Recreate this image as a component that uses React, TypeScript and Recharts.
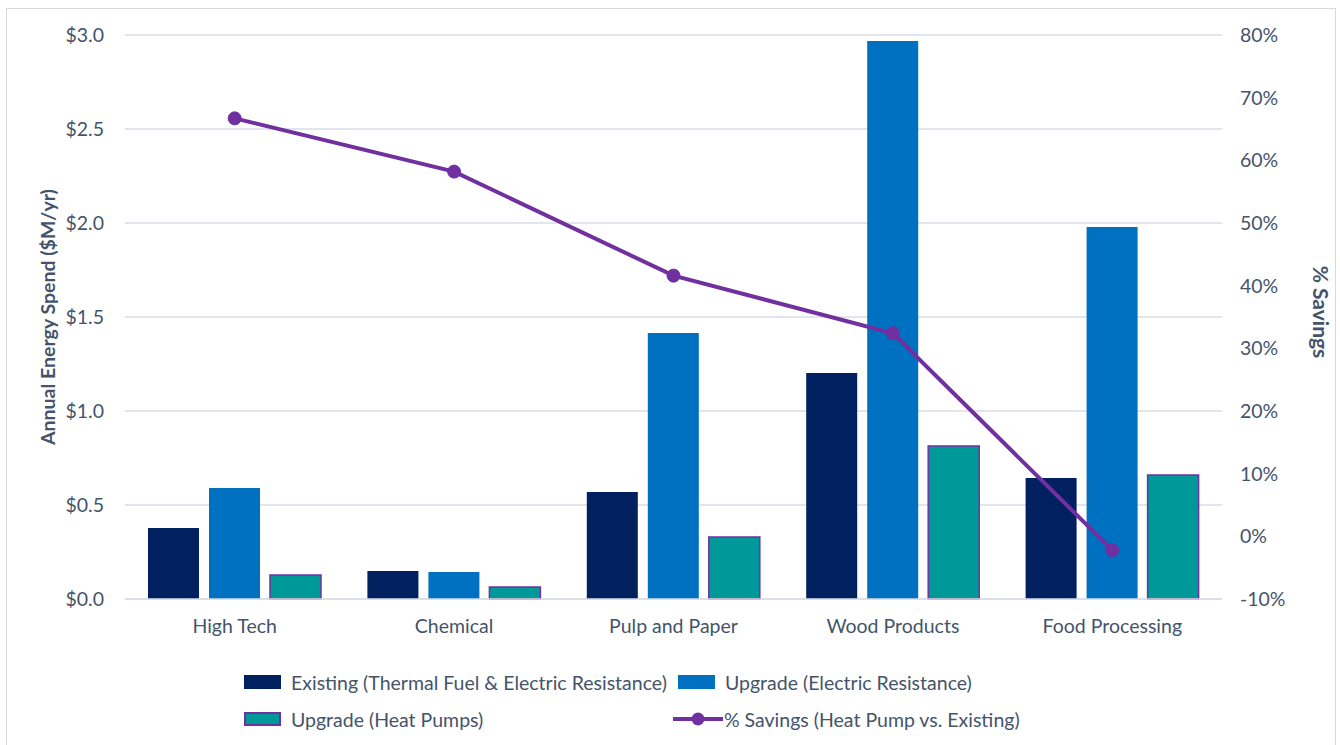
import { Bar, CartesianGrid, ComposedChart, Line, XAxis, YAxis } from 'recharts'

const categories = ['High Tech', 'Chemical', 'Pulp and Paper', 'Wood Products', 'Food Processing']
const existingSpend = [0.378, 0.149, 0.569, 1.202, 0.644]
const electricSpend = [0.59, 0.144, 1.415, 2.968, 1.979]
const heatPumpSpend = [0.128, 0.064, 0.33, 0.814, 0.66]
const savingsPct = [0.667, 0.582, 0.416, 0.324, -0.022]

const spendTicks = [0, 0.5, 1, 1.5, 2, 2.5, 3]
const pctTicks = [-0.1, 0, 0.1, 0.2, 0.3, 0.4, 0.5, 0.6, 0.7, 0.8]

const seriesNames = {
  existing: 'Existing (Thermal Fuel & Electric Resistance)',
  electric: 'Upgrade (Electric Resistance)',
  heatPump: 'Upgrade (Heat Pumps)',
  savings: '% Savings (Heat Pump vs. Existing)',
}

const data = categories.map((name, i) => ({
  name,
  existing: existingSpend[i],
  electric: electricSpend[i],
  heatPump: heatPumpSpend[i],
  savings: savingsPct[i],
}))

const FONT = 'Lato, "Open Sans", sans-serif'
const FS = 19.5
const TEXT = '#44546A'
const NAVY = '#002060'
const BLUE = '#0070C0'
const TEAL = '#009999'
const PURPLE = '#7030A0'

function LeftLabel({ viewBox }: any) {
  const x = 47
  const y = viewBox.y + viewBox.height / 2
  return (
    <text x={x} y={y} transform={`rotate(-90, ${x}, ${y})`} textAnchor="middle" dominantBaseline="central"
      fill={TEXT} fontSize={FS} fontWeight={700} fontFamily={FONT}>
      Annual Energy Spend ($M/yr)
    </text>
  )
}

function RightLabel({ viewBox }: any) {
  const x = 1321
  const y = viewBox.y + viewBox.height / 2 - 5
  return (
    <text x={x} y={y} transform={`rotate(90, ${x}, ${y})`} textAnchor="middle" dominantBaseline="central"
      fill={TEXT} fontSize={21} fontWeight={700} fontFamily={FONT}>
      % Savings
    </text>
  )
}

function Swatch({ fill, stroke }: { fill: string; stroke?: string }) {
  return (
    <span style={{ display: 'inline-block', width: 37, height: 14, background: fill, boxSizing: 'border-box',
      border: stroke ? `2px solid ${stroke}` : 'none', marginRight: 10 }} />
  )
}

function LegendItem({ left, top, children, label }: any) {
  return (
    <div style={{ position: 'absolute', left, top, display: 'flex', alignItems: 'center', height: 24,
      fontFamily: FONT, fontSize: FS, color: TEXT, whiteSpace: 'nowrap' }}>
      {children}
      <span>{label}</span>
    </div>
  )
}

export default function App() {
  return (
    <div style={{ position: 'absolute', left: 0, top: 0, width: 1340, height: 745, background: '#fff' }}>
      <div style={{ position: 'absolute', left: 6, top: 8, width: 1330, height: 745, border: '1px solid #D9D9D9',
        boxSizing: 'border-box' }} />
      <ComposedChart width={1340} height={745} data={data} barSize={51} barGap={10}
        margin={{ top: 35, right: 0, bottom: 116, left: 0 }} style={{ position: 'absolute', left: 0, top: 0 }}>
        <CartesianGrid vertical={false} stroke="#D9DEE6" strokeWidth={1.5} yAxisId="left" />
        <XAxis dataKey="name" tickLine={false} tickSize={0} tickMargin={20} height={30}
          axisLine={{ stroke: '#D9DEE6', strokeWidth: 1.5 }}
          tick={{ fill: TEXT, fontSize: FS, fontFamily: FONT }} />
        <YAxis yAxisId="left" orientation="left" width={125} domain={[0, 3]} ticks={spendTicks}
          tickFormatter={(v: number) => `$${v.toFixed(1)}`} axisLine={false} tickLine={false} tickSize={0}
          tickMargin={21} tick={{ fill: TEXT, fontSize: FS, fontFamily: FONT }} label={{ content: LeftLabel }} />
        <YAxis yAxisId="right" orientation="right" width={118} domain={[-0.1, 0.8]} ticks={pctTicks}
          tickFormatter={(v: number) => `${Math.round(v * 100)}%`} axisLine={false} tickLine={false} tickSize={0}
          tickMargin={18} tick={{ fill: TEXT, fontSize: FS, fontFamily: FONT, textAnchor: 'start' }}
          label={{ content: RightLabel }} />
        <Bar yAxisId="left" dataKey="existing" name={seriesNames.existing} fill={NAVY} isAnimationActive={false} />
        <Bar yAxisId="left" dataKey="electric" name={seriesNames.electric} fill={BLUE} isAnimationActive={false} />
        <Bar yAxisId="left" dataKey="heatPump" name={seriesNames.heatPump} fill={TEAL} stroke={PURPLE}
          strokeWidth={1.5} isAnimationActive={false} />
        <Line yAxisId="right" dataKey="savings" name={seriesNames.savings} stroke={PURPLE} strokeWidth={4}
          dot={{ r: 6.5, fill: PURPLE, stroke: PURPLE, strokeWidth: 1 }} activeDot={false} isAnimationActive={false} />
      </ComposedChart>
      <LegendItem left={244} top={670} label={seriesNames.existing}><Swatch fill={NAVY} /></LegendItem>
      <LegendItem left={678} top={670} label={seriesNames.electric}><Swatch fill={BLUE} /></LegendItem>
      <LegendItem left={244} top={707} label={seriesNames.heatPump}><Swatch fill={TEAL} stroke={PURPLE} /></LegendItem>
      <LegendItem left={673} top={707} label={seriesNames.savings}>
        <svg width={50} height={16} style={{ marginRight: 1 }}>
          <line x1={0} y1={8} x2={50} y2={8} stroke={PURPLE} strokeWidth={4} />
          <circle cx={25} cy={8} r={6.5} fill={PURPLE} />
        </svg>
      </LegendItem>
    </div>
  )
}
